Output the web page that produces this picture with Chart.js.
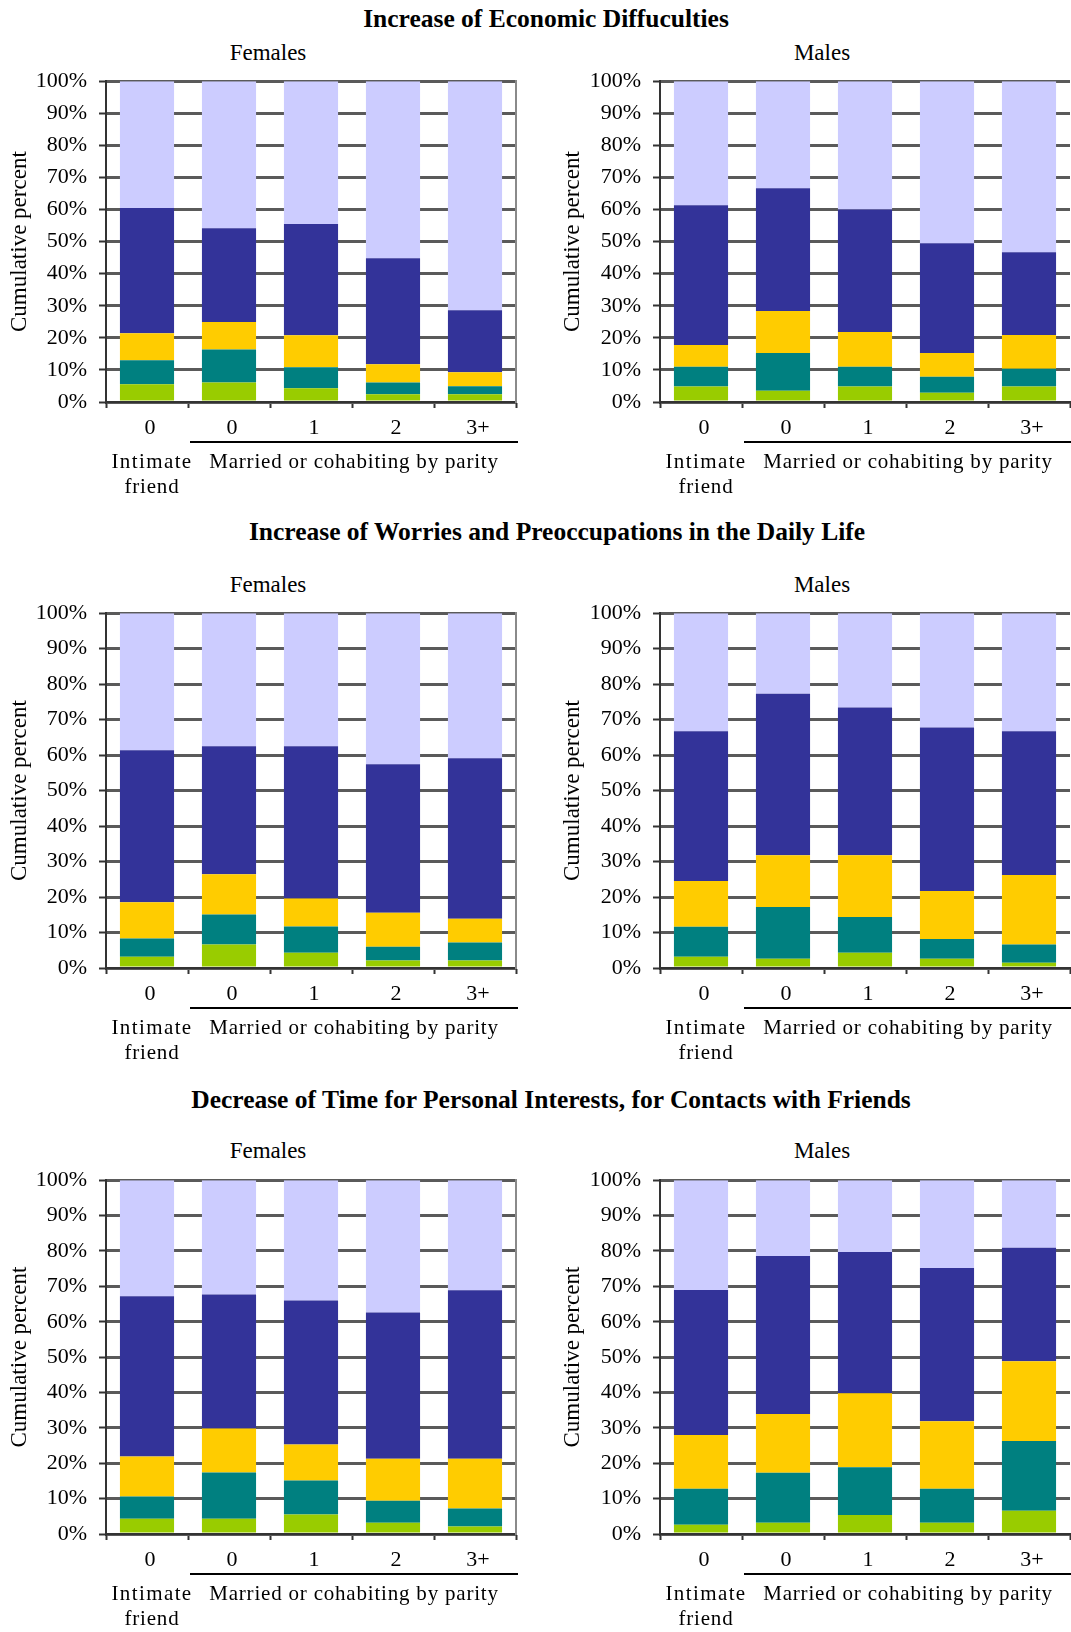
<!DOCTYPE html>
<html>
<head>
<meta charset="utf-8">
<script src="https://cdn.jsdelivr.net/npm/chart.js@4/dist/chart.umd.min.js"></script>
<style>
  html, body { margin: 0; padding: 0; overflow: hidden; background: #fff; }
  #page { position: relative; width: 1071px; height: 1632px; font-family: "Liberation Serif", "Times New Roman", serif; color: #000; }
  canvas { position: absolute; }
  .main { position: absolute; width: 1000px; text-align: center; font-weight: bold; font-size: 25.5px; line-height: 25.5px; white-space: nowrap; }
  .sub { position: absolute; width: 400px; text-align: center; font-size: 23px; line-height: 23px; }
</style>
</head>
<body>
<div id="page">
  <div class="main" style="left:46px; top:6px;">Increase of Economic Diffuculties</div>
  <div class="sub" style="left:68px; top:41px;">Females</div>
  <div class="sub" style="left:622px; top:41px;">Males</div>
  <canvas id="econF" width="535" height="444" style="left:0; top:56px; width:535px; height:444px;"></canvas>
  <canvas id="econM" width="518" height="444" style="left:553px; top:56px; width:518px; height:444px;"></canvas>

  <div class="main" style="left:57px; top:519px;">Increase of Worries and Preoccupations in the Daily Life</div>
  <div class="sub" style="left:68px; top:573px;">Females</div>
  <div class="sub" style="left:622px; top:573px;">Males</div>
  <canvas id="worryF" width="535" height="478" style="left:0; top:588px; width:535px; height:478px;"></canvas>
  <canvas id="worryM" width="518" height="478" style="left:553px; top:588px; width:518px; height:478px;"></canvas>

  <div class="main" style="left:51px; top:1087px;">Decrease of Time for Personal Interests, for Contacts with Friends</div>
  <div class="sub" style="left:68px; top:1139px;">Females</div>
  <div class="sub" style="left:622px; top:1139px;">Males</div>
  <canvas id="timeF" width="535" height="477" style="left:0; top:1155px; width:535px; height:477px;"></canvas>
  <canvas id="timeM" width="518" height="477" style="left:553px; top:1155px; width:518px; height:477px;"></canvas>
</div>

<script>
// categories: intimate friend (0 children), then married/cohabiting by parity
const categories = ["0", "0", "1", "2", "3+"];
const yTicks = [0, 10, 20, 30, 40, 50, 60, 70, 80, 90, 100];
const seriesColors = ["#99CC00", "#008080", "#FFCC00", "#333399", "#CCCCFF"];

// segment sizes (%), bottom to top: green, teal, yellow, dark blue, lavender
const econFemales = [
    [5.5, 6.1, 4.3, 2.4, 2.4],
    [7.5, 10.3, 6.5, 3.7, 2.5],
    [8.4, 8.5, 10.0, 5.7, 4.4],
    [39.1, 29.3, 34.7, 33.0, 19.3],
    [39.5, 45.8, 44.5, 55.2, 71.4]
];
const econMales = [
    [4.8, 3.5, 4.8, 2.9, 4.8],
    [6.2, 11.8, 6.2, 5.0, 5.6],
    [6.8, 13.1, 10.8, 7.4, 10.5],
    [43.5, 38.2, 38.2, 34.2, 25.8],
    [38.7, 33.4, 40.0, 50.5, 53.3]
];
const worryFemales = [
    [3.2, 6.6, 4.3, 2.1, 2.1],
    [5.1, 8.5, 7.4, 3.9, 5.1],
    [10.2, 11.3, 7.9, 9.6, 6.7],
    [42.9, 36.1, 42.9, 41.8, 45.2],
    [38.6, 37.5, 37.5, 42.6, 40.9]
];
const worryMales = [
    [3.2, 2.6, 4.3, 2.6, 1.5],
    [8.4, 14.6, 10.1, 5.6, 5.1],
    [12.9, 14.6, 17.4, 13.5, 19.6],
    [42.2, 45.5, 41.6, 46.1, 40.5],
    [33.3, 22.7, 26.6, 32.2, 33.3]
];
const timeFemales = [
    [4.3, 4.3, 5.5, 3.2, 2.1],
    [6.3, 13.1, 9.6, 6.2, 5.1],
    [11.3, 12.4, 10.2, 11.9, 14.1],
    [45.3, 37.9, 40.7, 41.3, 47.6],
    [32.8, 32.3, 34.0, 37.4, 31.1]
];
const timeMales = [
    [2.6, 3.2, 5.4, 3.2, 6.6],
    [10.2, 14.1, 13.5, 9.6, 19.7],
    [15.2, 16.6, 20.9, 19.1, 22.5],
    [41.0, 44.7, 39.9, 43.3, 32.1],
    [31.0, 21.4, 20.3, 24.8, 19.1]
];

const serif = '"Liberation Serif", "Times New Roman", serif';

// second row of x labels with the line over the married group
const groupLabels = {
    id: "groupLabels",
    afterDraw(chart) {
        const x = chart.scales.x;
        const ctx = chart.ctx;
        const b = chart.chartArea.bottom;
        const left = x.getPixelForValue(0.5);
        const right = x.getPixelForValue(4.5);
        const friendX = x.getPixelForValue(0) + 5;
        ctx.save();
        ctx.fillStyle = "#000";
        ctx.font = "21px " + serif;
        ctx.textAlign = "center";
        ctx.textBaseline = "middle";
        ctx.letterSpacing = "1.4px";
        ctx.fillText("Intimate", friendX, b + 60);
        ctx.letterSpacing = "0.8px";
        ctx.fillText("friend", friendX, b + 85);
        ctx.fillText("Married or cohabiting by parity", (left + right) / 2 + 2, b + 60);
        ctx.strokeStyle = "#000";
        ctx.lineWidth = 2;
        ctx.beginPath();
        ctx.moveTo(left + 2, b + 40);
        ctx.lineTo(right + 2, b + 40);
        ctx.stroke();
        ctx.restore();
    }
};

function makePanel(id, segments, yWidth, padRight, rightBorder) {
    const scales = {
        x: {
            stacked: true,
            grid: { display: true, drawOnChartArea: false, tickLength: 6, tickColor: "#333", tickWidth: 2 },
            border: { display: true, color: "#333", width: 2 },
            ticks: { color: "#000", font: { family: serif, size: 22 }, padding: 7, maxRotation: 0, labelOffset: 3 },
            afterFit: s => { s.height = 98; }
        },
        y: {
            stacked: true,
            min: 0,
            max: 100,
            afterBuildTicks: s => { s.ticks = yTicks.map(v => ({ value: v })); },
            grid: { color: "#5a5a5a", lineWidth: 3, tickLength: 7, tickColor: "#333", tickWidth: 2 },
            border: { display: true, color: "#333", width: 2 },
            ticks: { color: "#000", font: { family: serif, size: 22 }, padding: 12, callback: v => v + "%" },
            title: { display: true, text: "Cumulative percent", color: "#000", font: { family: serif, size: 23 }, padding: { top: 6, bottom: 4 } },
            afterFit: s => { s.width = yWidth; }
        }
    };
    if (rightBorder) {
        scales.yr = {
            position: "right",
            min: 0,
            max: 100,
            grid: { display: false },
            ticks: { display: false },
            border: { display: true, color: "#8a8a8a", width: 2 },
            afterFit: s => { s.width = 0; }
        };
    }
    new Chart(document.getElementById(id), {
        type: "bar",
        data: {
            labels: categories,
            datasets: segments.map((vals, i) => ({
                data: vals,
                backgroundColor: seriesColors[i],
                borderWidth: 0,
                barPercentage: 0.66,
                categoryPercentage: 1.0
            }))
        },
        options: {
            responsive: false,
            animation: false,
            layout: { padding: { top: 25, right: padRight, left: 0, bottom: 0 } },
            plugins: { legend: { display: false }, tooltip: { enabled: false }, title: { display: false } },
            scales: scales
        },
        plugins: [groupLabels]
    });
}

makePanel("econF", econFemales, 106, 19, true);
makePanel("econM", econMales, 107, 1, false);
makePanel("worryF", worryFemales, 106, 19, true);
makePanel("worryM", worryMales, 107, 1, false);
makePanel("timeF", timeFemales, 106, 19, true);
makePanel("timeM", timeMales, 107, 1, false);
</script>
</body>
</html>
